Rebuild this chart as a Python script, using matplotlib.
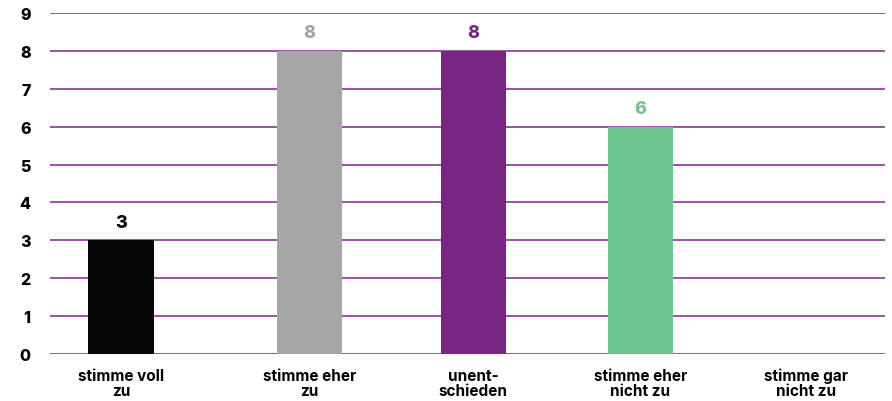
import numpy as np
import matplotlib
matplotlib.use("Agg")
import matplotlib.pyplot as plt

plt.rcParams['font.family'] = ['Inter', 'DejaVu Sans']

categories = ["stimme voll\nzu", "stimme eher\nzu", "unent-\nschieden",
              "stimme eher\nnicht zu", "stimme gar\nnicht zu"]
values = [3, 8, 8, 6, 0]
colors = ["#050505", "#a6a6a6", "#77277f", "#6cc48f", "#6cc48f"]

# uneven spacing as in the original layout
xpos = np.array([0, 1.13, 2.11, 3.11, 4.10])

fig = plt.figure(figsize=(8.92, 4.02), dpi=100)
ax = fig.add_axes([50/892, 47/402, 835/892, 341/402])

for y in range(0, 10):
    ax.axhline(y, color="#93449f", lw=1.3, zorder=1)

ax.bar(xpos, values, width=0.39, color=colors, zorder=2)

for x, v, c in zip(xpos, values, colors):
    if v > 0:
        ax.text(x, v + 0.25, str(v), ha="center", va="bottom", color=c,
                fontsize=13, fontweight="heavy")

ax.set_xlim(-0.425, 4.575)
ax.set_ylim(0, 9)
ax.set_yticks(range(0, 10))
ax.set_yticklabels([str(i) for i in range(0, 10)], fontsize=11.5, fontweight="heavy")
ax.set_xticks(xpos)
ax.set_xticklabels(categories, fontsize=11, fontweight="bold", linespacing=1.0)
ax.tick_params(axis="both", length=0)
ax.tick_params(axis="y", pad=14)
ax.tick_params(axis="x", pad=10)
for s in ax.spines.values():
    s.set_visible(False)

fig.savefig("out.png", dpi=100)
